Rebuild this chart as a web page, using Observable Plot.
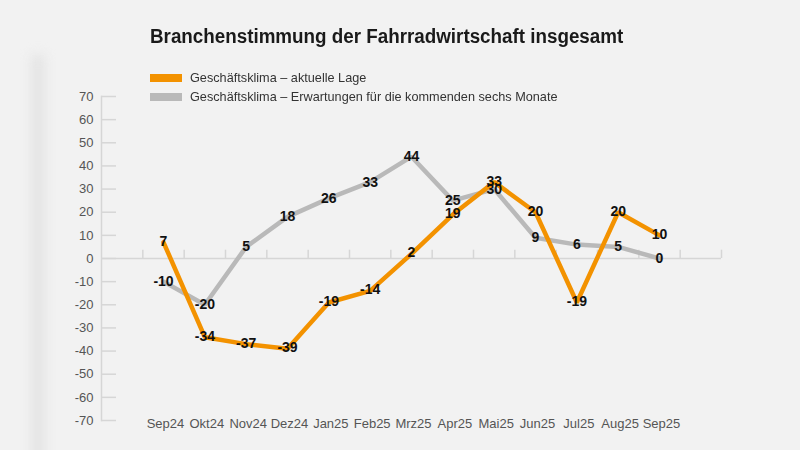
<!DOCTYPE html>
<html>
<head>
<meta charset="utf-8">
<script src="https://cdn.jsdelivr.net/npm/d3@7"></script>
<script src="https://cdn.jsdelivr.net/npm/@observablehq/plot@0.6"></script>
<style>
  html, body { margin: 0; padding: 0; background: #f2f2f2; }
  #wrap { position: relative; width: 800px; height: 450px; overflow: hidden; background: #f2f2f2; }
  #shadow { position: absolute; left: 32px; top: 55px; width: 12px; height: 420px; background: #e2e2e2; filter: blur(6px); }
  #title { position: absolute; left: 150px; top: 25px; font-family: "Liberation Sans", Arial, sans-serif; font-weight: bold; font-size: 20px; color: #1a1a1a; white-space: nowrap; transform: scaleX(0.94); transform-origin: 0 0; }
  .leg { position: absolute; left: 150px; font-family: "Liberation Sans", Arial, sans-serif; font-size: 13.5px; color: #333; white-space: nowrap; display: flex; align-items: center; }
  .legtxt { display: inline-block; transform: scaleX(0.94); transform-origin: 0 50%; }
  .sw { display: inline-block; width: 32px; height: 8px; margin-right: 8px; }
  #plot { position: absolute; left: 0; top: 0; }
</style>
</head>
<body>
<div id="wrap">
  <div id="shadow"></div>
  <div id="plot"></div>
  <div id="title"></div>
  <div id="leg1" class="leg" style="top:70px"></div>
  <div id="leg2" class="leg" style="top:89px"></div>
</div>
<script>
const title = "Branchenstimmung der Fahrradwirtschaft insgesamt";
const months = ["Sep24","Okt24","Nov24","Dez24","Jan25","Feb25","Mrz25","Apr25","Mai25","Jun25","Jul25","Aug25","Sep25"];
const lageValues = [7, -34, -37, -39, -19, -14, 2, 19, 33, 20, -19, 20, 10];
const erwartungValues = [-10, -20, 5, 18, 26, 33, 44, 25, 30, 9, 6, 5, 0];
const seriesNames = ["Geschäftsklima – aktuelle Lage", "Geschäftsklima – Erwartungen für die kommenden sechs Monate"];
const seriesColors = ["#f39200", "#b9b9b9"];
const yTicks = [70, 60, 50, 40, 30, 20, 10, 0, -10, -20, -30, -40, -50, -60, -70];

document.getElementById("title").textContent = title;
[["leg1", 0], ["leg2", 1]].forEach(([id, i]) => {
  const el = document.getElementById(id);
  el.innerHTML = `<span class="sw" style="background:${seriesColors[i]}"></span><span class="legtxt"></span>`;
  el.lastChild.textContent = seriesNames[i];
});

const lage = months.map((m, i) => ({i, month: m, value: lageValues[i]}));
const erw = months.map((m, i) => ({i, month: m, value: erwartungValues[i]}));
// slot boundaries: one empty slot before and after the data
const bounds = d3.range(-1.5, months.length + 1, 1);

const fontAxis = "'Liberation Sans', Arial, sans-serif";

const chart = Plot.plot({
  width: 800,
  height: 450,
  marginLeft: 101,
  marginRight: 79,
  marginTop: 96,
  marginBottom: 30,
  style: {background: "transparent", fontFamily: fontAxis},
  x: {type: "linear", domain: [-1.5, months.length + 0.5], axis: null},
  y: {domain: [-70, 70], axis: null},
  marks: [
    Plot.frame({anchor: "left", stroke: "#d6d6d6", strokeWidth: 1.5}),
    Plot.ruleY([0], {stroke: "#d6d6d6", strokeWidth: 1.5}),
    Plot.ruleX(bounds.slice(1), {x: d => d, y1: 0, y2: 3.6, stroke: "#d6d6d6", strokeWidth: 1.5}),
    Plot.axisY({ticks: yTicks, tickSize: -15, stroke: "#d6d6d6", strokeWidth: 1.5, text: null, anchor: "left", label: null}),
    Plot.axisY({ticks: yTicks, tickSize: 0, tickPadding: 8, anchor: "left", fontSize: 13, fill: "#555", tickFormat: d => d, label: null}),
    Plot.text(months, {x: (d, i) => i, y: -70, text: d => d, fontSize: 13, fill: "#555", dx: 2, dy: 3, textAnchor: "middle"}),
    Plot.line(erw, {x: "i", y: "value", stroke: seriesColors[1], strokeWidth: 4.5, strokeLinejoin: "miter"}),
    Plot.line(lage, {x: "i", y: "value", stroke: seriesColors[0], strokeWidth: 4.5, strokeLinejoin: "miter"}),
    Plot.text(erw, {x: "i", y: "value", text: "value", fontSize: 14, fontWeight: "bold", fill: "#111"}),
    Plot.text(lage, {x: "i", y: "value", text: "value", fontSize: 14, fontWeight: "bold", fill: "#111", dy: -1})
  ]
});
document.getElementById("plot").appendChild(chart);
</script>
</body>
</html>
